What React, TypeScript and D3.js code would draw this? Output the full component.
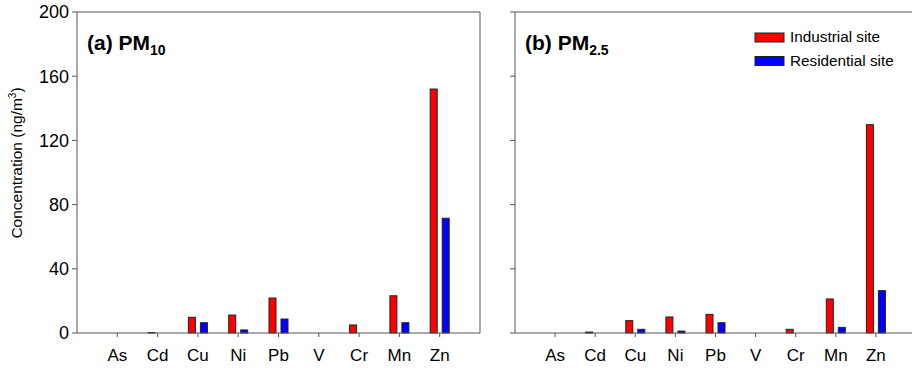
import React from "react";
import * as d3 from "d3";

const elements = ["As", "Cd", "Cu", "Ni", "Pb", "V", "Cr", "Mn", "Zn"];
const pm10Industrial = [0, 0.3, 9.8, 11.2, 21.8, 0, 5.0, 23.2, 152];
const pm10Residential = [0, 0, 6.4, 1.9, 8.7, 0, 0, 6.4, 71.5];
const pm25Industrial = [0, 0.6, 7.7, 10, 11.6, 0, 2.3, 21.2, 129.8];
const pm25Residential = [0, 0, 2.3, 1.2, 6.4, 0, 0, 3.5, 26.4];
const yTicks = [0, 40, 80, 120, 160, 200];
const seriesNames = ["Industrial site", "Residential site"];
const seriesColors = ["#ff0000", "#0000ff"];

const FONT = "Arial, 'Liberation Sans', sans-serif";
const TOP = 12;
const BOTTOM = 333;

type PanelProps = {
  left: number;
  right: number;
  industrial: number[];
  residential: number[];
  title: string;
  sub: string;
  showYLabels: boolean;
  showLegend: boolean;
};

function Panel({ left, right, industrial, residential, title, sub, showYLabels, showLegend }: PanelProps) {
  const x = d3.scalePoint<string>().domain(elements).range([left, right]).padding(1);
  const y = d3.scaleLinear().domain([0, 200]).range([BOTTOM, TOP]);
  const barW = 7;
  const off = 6;
  const axisColor = "#555";
  return (
    <g>
      <line x1={left} x2={right} y1={TOP} y2={TOP} stroke={axisColor} strokeWidth={1} />
      <line x1={right} x2={right} y1={TOP} y2={BOTTOM} stroke={axisColor} strokeWidth={1} />
      <line x1={left} x2={left} y1={TOP} y2={BOTTOM} stroke={axisColor} strokeWidth={1} />
      {yTicks.map((t) => (
        <g key={t}>
          <line x1={left - 5} x2={left} y1={y(t)} y2={y(t)} stroke={axisColor} />
          {showYLabels && (
            <text x={left - 8} y={y(t)} dy="0.35em" textAnchor="end" fontSize={18} fontFamily={FONT} fill="#000">
              {t}
            </text>
          )}
        </g>
      ))}
      {elements.map((e, i) => {
        const cx = x(e) as number;
        const bars = [
          { v: industrial[i], c: seriesColors[0], cx: cx - off },
          { v: residential[i], c: seriesColors[1], cx: cx + off },
        ];
        return bars
          .filter((b) => b.v > 0)
          .map((b, j) => (
            <rect
              key={e + j}
              x={b.cx - barW / 2}
              y={y(b.v)}
              width={barW}
              height={Math.max(0.5, BOTTOM - y(b.v))}
              fill={b.c}
              stroke="#222"
              strokeWidth={1}
            />
          ));
      })}
      <line x1={left} x2={right} y1={BOTTOM} y2={BOTTOM} stroke={axisColor} strokeWidth={1} />
      {elements.map((e) => (
        <g key={e}>
          <line x1={x(e)} x2={x(e)} y1={BOTTOM} y2={BOTTOM + 4} stroke={axisColor} />
          <text x={x(e)} y={361} textAnchor="middle" fontSize={17} fontFamily={FONT} fill="#000">
            {e}
          </text>
        </g>
      ))}
      <text x={left + 10} y={50} fontSize={21} fontWeight="bold" fontFamily={FONT} fill="#000">
        {title}
        <tspan fontSize={14} dy={5}>{sub}</tspan>
      </text>
      {showLegend &&
        seriesNames.map((n, i) => (
          <g key={n}>
            <rect x={755} y={33 + i * 23.5} width={29} height={9} fill={seriesColors[i]} stroke="#222" strokeWidth={1} />
            <text x={790} y={42 + i * 23.5} fontSize={15.3} fontFamily={FONT} fill="#000">
              {n}
            </text>
          </g>
        ))}
    </g>
  );
}

export default function App() {
  return (
    <svg
      width={912}
      height={368}
      style={{ position: "absolute", left: 0, top: 0, background: "#fff" }}
    >
      <rect x={0} y={0} width={912} height={368} fill="#fff" />
      <text
        transform="translate(22,163) rotate(-90)"
        textAnchor="middle"
        fontSize={15.5}
        fontFamily={FONT}
        fill="#000"
      >
        Concentration (ng/m<tspan fontSize={10} dy={-6}>3</tspan>
        <tspan dy={6}>)</tspan>
      </text>
      <Panel
        left={77}
        right={480}
        industrial={pm10Industrial}
        residential={pm10Residential}
        title="(a) PM"
        sub="10"
        showYLabels={true}
        showLegend={false}
      />
      <Panel
        left={515}
        right={916}
        industrial={pm25Industrial}
        residential={pm25Residential}
        title="(b) PM"
        sub="2.5"
        showYLabels={false}
        showLegend={true}
      />
    </svg>
  );
}
